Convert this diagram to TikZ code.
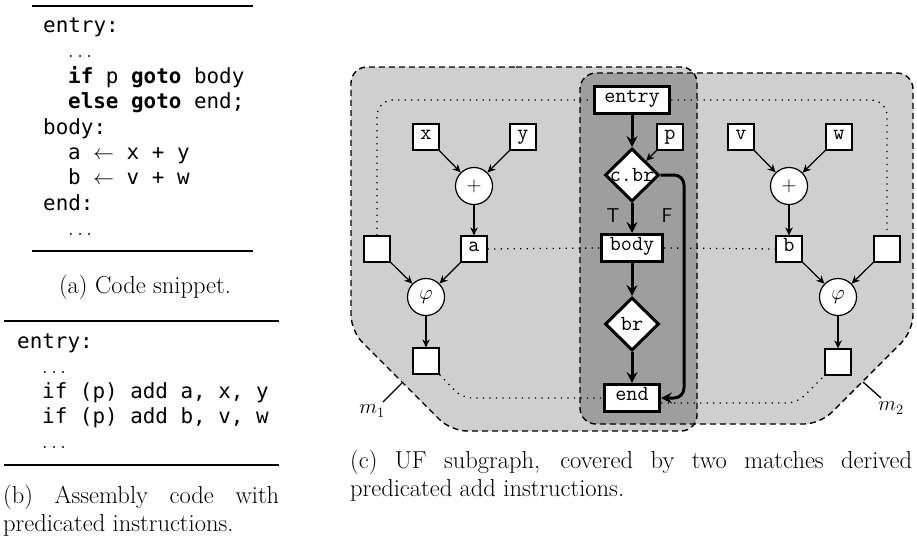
\documentclass[tikz,border=0pt]{standalone}
\usepackage{fontspec}
\newfontfamily\lstcodefont{DejaVu Sans Mono}
\usetikzlibrary{arrows.meta,shapes.geometric,calc}
\newcommand{\capfont}{\fontsize{24.5}{29}\selectfont}
\newcommand{\lstfnt}{\fontsize{20.9}{25}\selectfont\lstcodefont}
\newcommand{\grfnt}{\fontsize{21.5}{25}\selectfont\ttfamily}
\begin{document}
\begin{tikzpicture}[x=1pt,y=-1pt,
  codeline/.style={anchor=base west,inner sep=0pt,font=\lstfnt},
  captext/.style={inner sep=0pt,font=\capfont},
  rulepen/.style={line width=2pt},
  lightfill/.style={fill=black!19},
  darkfill/.style={fill=black!38},
  regline/.style={line width=1.4pt,dash pattern=on 6pt off 4pt},
  tbox/.style={draw,fill=white,line width=1.2pt,minimum width=26pt,minimum height=26pt,inner sep=0pt,
     text height=1.5ex,text depth=0.25ex,font=\grfnt},
  opnode/.style={circle,draw,fill=white,line width=1.2pt,minimum size=37pt,inner sep=0pt,font=\fontsize{21}{24}\selectfont},
  cfbox/.style={draw,fill=white,line width=3pt,minimum height=27pt,inner sep=0pt,
     text height=1.5ex,text depth=0.25ex,font=\grfnt},
  cfdia/.style={diamond,aspect=1,draw,fill=white,line width=3pt,minimum width=54pt,minimum height=53pt,inner sep=-2pt,
     font=\grfnt},
  thinarr/.style={line width=1.2pt,-{Stealth[length=8pt,width=7.5pt,inset=2.5pt]}},
  thickarr/.style={line width=3pt,-{Stealth[length=11pt,width=11pt,inset=4pt]}},
  dotline/.style={line width=1.3pt,dash pattern=on 1.3pt off 5.2pt},
  brlab/.style={inner sep=0pt,font=\fontsize{20}{24}\selectfont\sffamily},
  mlab/.style={inner sep=0pt,font=\fontsize{21}{24}\selectfont},
  tick/.style={line width=1.3pt}
]
\useasboundingbox (0,0) rectangle (917,541);

% ---------- (a) code snippet ----------
\draw[rulepen] (32,6) -- (253,6);
\draw[rulepen] (32,251) -- (253,251);
\node[codeline] (a1) at (43,32) {entry:};
\node[codeline] (a2) at (68,57) {$\ldots$};
\node[codeline] (a3) at (68,83) {\textbf{if} p \textbf{goto} body};
\node[codeline] (a4) at (68,108.5) {\textbf{else} \textbf{goto} end;};
\node[codeline] (a5) at (43,134) {body:};
\node[codeline] (a6) at (68,159) {a $\leftarrow$ x + y};
\node[codeline] (a7) at (68,184.5) {b $\leftarrow$ v + w};
\node[codeline] (a8) at (43,210) {end:};
\node[codeline] (a9) at (68,235) {$\ldots$};
\node[captext,anchor=base] (capa) at (145,293) {(a) Code snippet.};

% ---------- (b) assembly ----------
\draw[rulepen] (4,321) -- (279,321);
\draw[rulepen] (4,465) -- (279,465);
\node[codeline] (b1) at (17,348) {entry:};
\node[codeline] (b2) at (42,373) {$\ldots$};
\node[codeline] (b3) at (42,398) {if (p) add a, x, y};
\node[codeline] (b4) at (42,423) {if (p) add b, v, w};
\node[codeline] (b5) at (42,448) {$\ldots$};
\node[captext,anchor=base west] (capb1) at (3,503) {\makebox[276pt][s]{(b) Assembly code with}};
\node[captext,anchor=base west] (capb2) at (3,531) {predicated instructions.};

% ---------- (c) regions ----------
\fill[lightfill,rounded corners=16pt] (500,67) -- (697,67) -- (697,431) -- (451,431) -- (351,331) -- (351,67) -- cycle;
\fill[lightfill,rounded corners=16pt] (750,73) -- (913,73) -- (913,331) -- (820,424) -- (580,424) -- (580,73) -- cycle;
\begin{scope}
  \clip[rounded corners=16pt] (500,67) -- (697,67) -- (697,431) -- (451,431) -- (351,331) -- (351,67) -- cycle;
  \fill[darkfill,rounded corners=16pt] (750,73) -- (913,73) -- (913,331) -- (820,424) -- (580,424) -- (580,73) -- cycle;
\end{scope}
\draw[regline,rounded corners=16pt] (500,67) -- (697,67) -- (697,431) -- (451,431) -- (351,331) -- (351,67) -- cycle;
\draw[regline,rounded corners=16pt] (750,73) -- (913,73) -- (913,331) -- (820,424) -- (580,424) -- (580,73) -- cycle;

% ---------- (c) nodes ----------
\node[cfbox,minimum width=75pt] (entry) at (632,100) {entry};
\node[tbox] (p) at (670,137) {p};
\node[cfdia] (cbr) at (632,175) {c.br};
\node[cfbox,minimum width=61pt] (body) at (632,248) {body};
\node[cfdia] (br) at (632,324) {br};
\node[cfbox,minimum width=55pt] (end) at (632,398) {end};

\node[tbox] (x) at (426,137) {x};
\node[tbox] (y) at (523,137) {y};
\node[opnode] (plA) at (474,186) {$+$};
\node[tbox] (a) at (474,249) {a};
\node[tbox] (inA) at (377,249) {};
\node[opnode] (phiA) at (426,297) {$\varphi$};
\node[tbox] (outA) at (426,361) {};

\node[tbox] (v) at (741,137) {v};
\node[tbox] (w) at (839,137) {w};
\node[opnode] (plB) at (789,186) {$+$};
\node[tbox] (b) at (789,249) {b};
\node[tbox] (inB) at (887,249) {};
\node[opnode] (phiB) at (838,297) {$\varphi$};
\node[tbox] (outB) at (838,362) {};

% ---------- dotted links ----------
\draw[dotline,rounded corners=16pt] (inA.north) |- (entry.west);
\draw[dotline,rounded corners=16pt] (entry.east) -| (inB.north);
\draw[dotline] (a.east) -- (body.west);
\draw[dotline] (body.east) -- (b.west);
\coordinate (lbc) at (462,398);
\draw[dotline,rounded corners=10pt] (outA.south east) -- (lbc) -- (end.west);
\coordinate (rbc) at (797,403);
\draw[dotline,rounded corners=10pt] ($(end.east)+(0,5)$) -- (rbc) -- (outB.south west);

% ---------- data edges ----------
\draw[thinarr] (x) -- (plA);
\draw[thinarr] (y) -- (plA);
\draw[thinarr] (plA) -- (a);
\draw[thinarr] (inA) -- (phiA);
\draw[thinarr] (a) -- (phiA);
\draw[thinarr] (phiA) -- (outA);
\draw[thinarr] (v) -- (plB);
\draw[thinarr] (w) -- (plB);
\draw[thinarr] (plB) -- (b);
\draw[thinarr] (inB) -- (phiB);
\draw[thinarr] (b) -- (phiB);
\draw[thinarr] (phiB) -- (outB);
\draw[thinarr] (p) -- (cbr);

% ---------- control edges ----------
\draw[thickarr] (entry) -- (cbr);
\draw[thickarr] (cbr) -- (body);
\draw[thickarr] (body) -- (br);
\draw[thickarr] (br) -- (end);
\coordinate (Fc) at (684,398);
\draw[thickarr,rounded corners=10pt] (cbr.east) -| (Fc) -- (end.east);
\node[brlab] (Tl) at (613,216) {T};
\node[brlab] (Fl) at (667,216) {F};

% ---------- match labels ----------
\node[mlab] (m1) at (372,411) {$m_1$};
\coordinate (m1t) at (402,383);
\coordinate (m1e) at (383,402);
\draw[tick] (m1t) -- (m1e);
\node[mlab] (m2) at (891,408) {$m_2$};
\coordinate (m2t) at (863,382);
\coordinate (m2e) at (881,398);
\draw[tick] (m2t) -- (m2e);

% ---------- caption (c) ----------
\node[captext,anchor=base west] (capc1) at (350,468) {\makebox[562pt][s]{(c) UF subgraph, covered by two matches derived}};
\node[captext,anchor=base west] (capc2) at (350,496) {predicated add instructions.};
\end{tikzpicture}
\end{document}
